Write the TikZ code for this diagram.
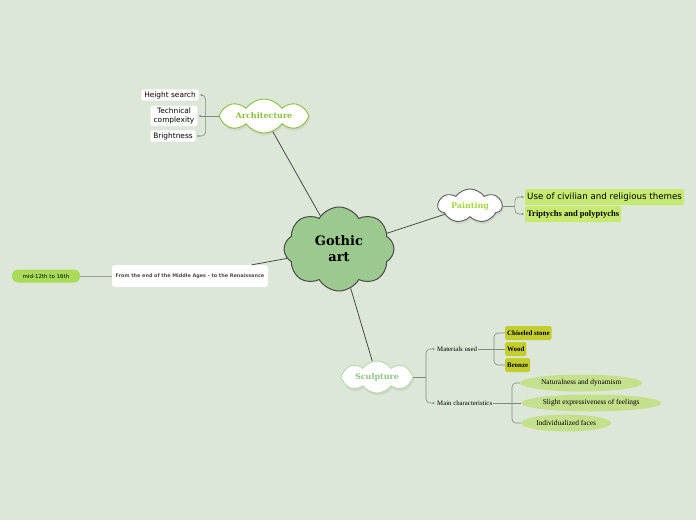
\documentclass[tikz,border=0pt]{standalone}
\usepackage{fontspec}
\setmainfont{DejaVu Sans}
\newfontfamily\slabfont{DejaVu Serif}
\newfontfamily\bookfont{Liberation Serif}
\usepackage{tikz}
\usetikzlibrary{positioning,arrows.meta,calc,shapes.symbols,shapes.geometric,shadows}
\definecolor{gabg}{HTML}{DCE7D7}
\definecolor{gacore}{HTML}{9BC98F}
\definecolor{gadark}{HTML}{4A4A4A}
\definecolor{gagray}{HTML}{7D8A7E}
\definecolor{gaarch}{HTML}{8CBF3F}
\definecolor{gapaint}{HTML}{A3D83A}
\definecolor{gasculpt}{HTML}{B5DAAB}
\definecolor{gasculpttext}{HTML}{8DC585}
\definecolor{galeaf}{HTML}{C6E972}
\definecolor{gaolive}{HTML}{C3CE2E}
\definecolor{gaoval}{HTML}{C5E08D}
\definecolor{gapill}{HTML}{A8DC58}

\begin{document}
\begin{tikzpicture}[x=1pt, y=-1pt,
    topic/.style={cloud, cloud puffs=8, cloud puff arc=110, cloud ignores aspect,
      draw, line width=0.9pt, fill=white, inner sep=0pt,
      font=\slabfont\bfseries\fontsize{8}{9}\selectfont,
      drop shadow={opacity=0.15, shadow xshift=1pt, shadow yshift=-2.5pt}},
    whitebox/.style={rectangle, rounded corners=2pt, fill=white, align=center,
      inner xsep=3pt, inner ysep=2pt, font=\fontsize{7.4}{9}\selectfont},
    leafbox/.style={rectangle, rounded corners=2pt, fill=galeaf, inner xsep=2pt,
      minimum height=16, anchor=west},
    olivebox/.style={rectangle, rounded corners=2pt, fill=gaolive, inner xsep=2pt,
      minimum height=14, anchor=west, font=\bookfont\bfseries\fontsize{6.9}{7}\selectfont},
    ovalbox/.style={ellipse, fill=gaoval, inner sep=0pt, minimum height=17, anchor=west,
      font=\bookfont\fontsize{7.4}{8}\selectfont},
    stemtext/.style={anchor=west, inner xsep=1pt, font=\bookfont\fontsize{6.8}{8}\selectfont},
    mainline/.style={gadark, line width=0.8pt},
    brline/.style={gagray, line width=0.6pt, rounded corners=4pt},
    brarrow/.style={brline, -{Stealth[length=2.5pt,width=2pt]}, shorten >=1pt}]

  % background and page
  \fill[gabg] (0,0) rectangle (696,520);
  \useasboundingbox (0,0) rectangle (696,520);

  % central idea
  \node[cloud, cloud puffs=8, cloud puff arc=120, cloud ignores aspect, draw=gadark,
    line width=1pt, fill=gacore, minimum width=110, minimum height=84, inner sep=0pt,
    align=center, font=\slabfont\bfseries\fontsize{13}{16}\selectfont] (core) at (339,249) {Gothic\\art};

  % main topics
  \node[topic, draw=gaarch, text=gaarch, minimum width=90, minimum height=34] (arch) at (264,116) {Architecture};
  \node[topic, draw=gadark!90, text=gapaint, cloud puffs=7, minimum width=64, minimum height=34] (paint) at (470,206) {Painting};
  \node[topic, draw=gasculpt, text=gasculpttext, minimum width=72, minimum height=32] (sculpt) at (377,377) {Sculpture};
  \node[rectangle, rounded corners=3pt, fill=white, minimum width=156, minimum height=22,
    font=\bfseries\fontsize{4.9}{5}\selectfont, text=gadark] (era) at (190,276)
    {From the end of the Middle Ages - to the Renaissance};

  \draw[mainline] (core) -- (arch);
  \draw[mainline] (core) -- (paint);
  \draw[mainline] (core) -- (sculpt);
  \draw[mainline] (core) -- (era);

  % era
  \node[rectangle, rounded corners=6pt, fill=gapill, minimum width=68, minimum height=13,
    font=\fontsize{5.5}{6}\selectfont] (mid) at (46,276) {mid-12th to 16th};
  \draw[gagray!80, line width=1pt] (era) -- (mid);

  % architecture
  \node[whitebox] (hsearch) at (170,95) {Height search};
  \node[whitebox] (tcomplex) at (174,116) {Technical\\complexity};
  \node[whitebox] (bright) at (173,136) {Brightness};
  \draw[brline, line width=0.9pt] (arch.west) -- ++(-13,0) coordinate (archfork);
  \draw[brarrow] (archfork) |- (hsearch.east);
  \draw[brarrow] (archfork) -- (tcomplex.east);
  \draw[brarrow] (archfork) |- (bright.east);

  % painting
  \node[leafbox, font=\fontsize{8.7}{9}\selectfont] (civil) at (525,197) {Use of civilian and religious themes};
  \node[leafbox, font=\bookfont\bfseries\fontsize{8.5}{9}\selectfont] (tript) at (525,214) {Triptychs and polyptychs};
  \draw[brline, line width=0.9pt] (paint.east) -- ++(12,0) coordinate (paintfork);
  \draw[brarrow] (paintfork) |- (civil.west);
  \draw[brarrow] (paintfork) |- (tript.west);

  % sculpture
  \node[stemtext] (matused) at (436,349) {Materials used};
  \node[stemtext] (mainchar) at (436,403) {Main characteristics};
  \draw[brline, line width=0.9pt] (sculpt.east) -- (426,377) coordinate (sculptfork);
  \draw[brarrow] (sculptfork) |- (matused.west);
  \draw[brarrow] (sculptfork) |- (mainchar.west);

  \node[olivebox] (stone) at (505,333) {Chiseled stone};
  \node[olivebox] (wood) at (505,349) {Wood};
  \node[olivebox] (bronze) at (505,365) {Bronze};
  \draw[brline, line width=0.9pt] (matused.east) -- (494,349) coordinate (matfork);
  \draw[brline] (matfork) |- (stone.west);
  \draw[brline] (matfork) -- (wood.west);
  \draw[brline] (matfork) |- (bronze.west);

  \node[ovalbox, minimum width=122] (natural) at (520,383) {Naturalness and dynamism};
  \node[ovalbox, minimum width=140] (slight) at (521,403) {Slight expressiveness of feelings};
  \node[ovalbox, minimum width=90] (faces) at (521,423) {Individualized faces};
  \draw[brline, line width=0.9pt] (mainchar.east) -- (512,403) coordinate (charfork);
  \draw[brline] (charfork) |- (natural.west);
  \draw[brline] (charfork) -- (slight.west);
  \draw[brline] (charfork) |- (faces.west);
\end{tikzpicture}
\end{document}
